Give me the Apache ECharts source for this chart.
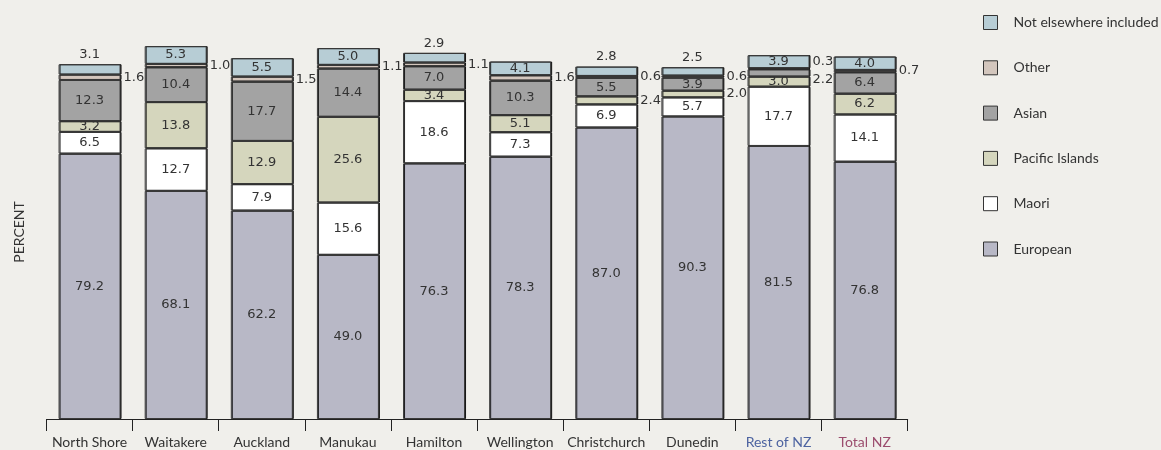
<!DOCTYPE html>
<html>
<head>
<meta charset="utf-8">
<script src="https://cdn.jsdelivr.net/npm/echarts@6/dist/echarts.min.js"></script>
<style>
html,body{margin:0;padding:0;background:#f0efeb;}
#c{width:1161px;height:450px;}
</style>
</head>
<body>
<div id="c"></div>
<script>
const categories = ['North Shore','Waitakere','Auckland','Manukau','Hamilton','Wellington','Christchurch','Dunedin','Rest of NZ','Total NZ'];
const european = [79.2, 68.1, 62.2, 49.0, 76.3, 78.3, 87.0, 90.3, 81.5, 76.8];
const maori    = [6.5, 12.7, 7.9, 15.6, 18.6, 7.3, 6.9, 5.7, 17.7, 14.1];
const pacific  = [3.2, 13.8, 12.9, 25.6, 3.4, 5.1, 2.4, 2.0, 3.0, 6.2];
const asian    = [12.3, 10.4, 17.7, 14.4, 7.0, 10.3, 5.5, 3.9, 2.2, 6.4];
const other    = [1.6, 1.0, 1.5, 1.1, 1.1, 1.6, 0.6, 0.6, 0.3, 0.7];
const nei      = [3.1, 5.3, 5.5, 5.0, 2.9, 4.1, 2.8, 2.5, 3.9, 4.0];

const seriesDefs = [
  {name:'European', data:european, color:'#b8b8c6'},
  {name:'Maori', data:maori, color:'#ffffff'},
  {name:'Pacific Islands', data:pacific, color:'#d5d6bd'},
  {name:'Asian', data:asian, color:'#a3a3a3'},
  {name:'Other', data:other, color:'#d3c6bd'},
  {name:'Not elsewhere included', data:nei, color:'#b7cdd5'}
];

const labelFont = {fontFamily:'DejaVu Sans', fontSize:13, color:'#333'};

function isTopSeries(name){ return name === 'Not elsewhere included'; }
function posFor(name, v){
  if (isTopSeries(name)) return v <= 3.1 ? 'top' : 'inside';
  return v < 2.5 ? 'right' : 'inside';
}

const series = seriesDefs.map((def, si) => ({
  name: def.name,
  type: 'bar',
  stack: 'total',
  barWidth: 62,
  data: def.data.map((v, ci) => {
    const pos = posFor(def.name, v);
    let dy = 0;
    if (pos === 'right') {
      const below = si > 0 ? seriesDefs[si-1] : null;
      const above = si < seriesDefs.length-1 ? seriesDefs[si+1] : null;
      if (below && posFor(below.name, below.data[ci]) === 'right') dy = -7;
      if (above && posFor(above.name, above.data[ci]) === 'right') dy = 7;
    }
    return {value:v, label:{position:pos, distance:3, offset:[0, dy]}};
  }),
  itemStyle: {color:def.color, borderColor:'#3a3a3a', borderWidth:1,
              shadowColor:'rgba(0,0,0,0.85)', shadowOffsetX:1, shadowOffsetY:0, shadowBlur:0},
  label: Object.assign({show:true, formatter: p => p.value.toFixed(1)}, labelFont),
  emphasis: {disabled:true}
}));

const chart = echarts.init(document.getElementById('c'), null, {renderer:'canvas'});
chart.setOption({
  backgroundColor:'#f0efeb',
  animation:false,
  grid:{left:46.5, right:253.3, top:17, bottom:31},
  legend:{
    orient:'vertical', left:978, top:10,
    itemWidth:14, itemHeight:14, itemGap:30.3,
    icon:'rect',
    data:['Not elsewhere included','Other','Asian','Pacific Islands','Maori','European'],
    textStyle:{fontFamily:'Lato', fontSize:14, color:'#333', padding:[0,0,0,11]},
    itemStyle:{borderColor:'#333', borderWidth:1, shadowBlur:0, shadowOffsetX:0, shadowColor:'transparent'}
  },
  graphic:[{
    type:'text', x:12, y:232, rotation:Math.PI/2,
    style:{text:'PERCENT', fontFamily:'Lato', fontSize:14, fill:'#333', align:'center', verticalAlign:'top'}
  }],
  xAxis:{
    type:'category', data:categories,
    axisLine:{show:true, lineStyle:{color:'#222', width:1}},
    axisTick:{show:true, interval:0, length:12, lineStyle:{color:'#222', width:1}},
    axisLabel:{
      fontFamily:'Lato', fontSize:14, color:'#333', margin:16, interval:0,
      formatter: v => v === 'Rest of NZ' ? '{b|'+v+'}' : (v === 'Total NZ' ? '{m|'+v+'}' : v),
      rich:{
        b:{color:'#4d63a0', fontFamily:'Lato', fontSize:14},
        m:{color:'#9b4d6e', fontFamily:'Lato', fontSize:14}
      }
    }
  },
  yAxis:{
    type:'value', min:0, max:120,
    axisLine:{show:false}, axisTick:{show:false}, axisLabel:{show:false},
    splitLine:{show:false}
  },
  series: series
});
</script>
</body>
</html>
